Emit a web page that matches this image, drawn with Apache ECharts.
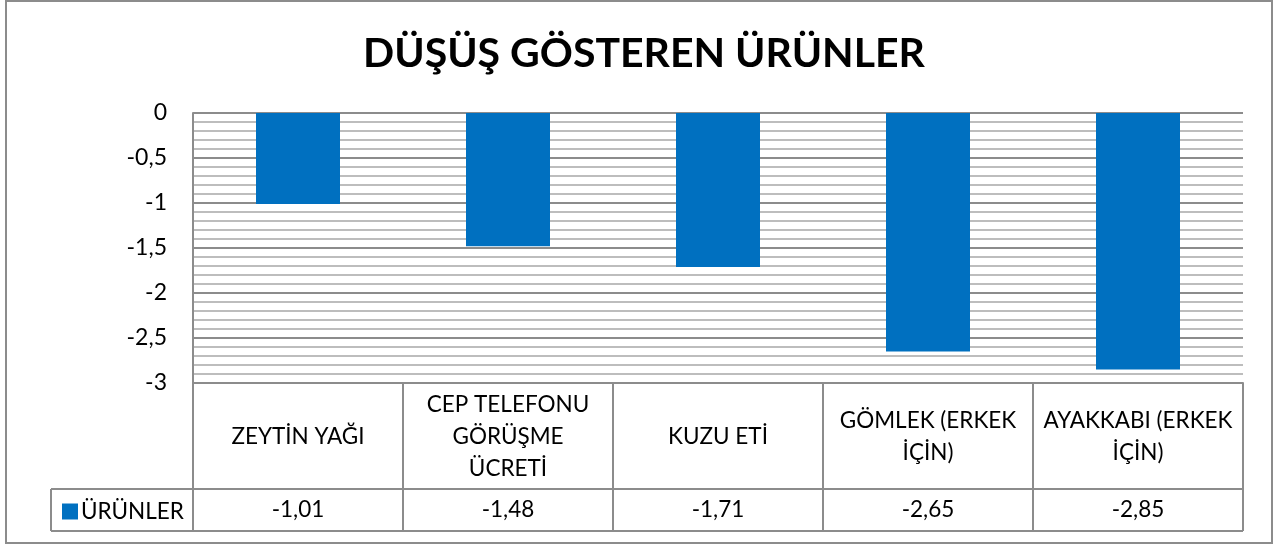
<!DOCTYPE html>
<html lang="tr">
<head>
    <meta charset="UTF-8">
    <title>DÜŞÜŞ GÖSTEREN ÜRÜNLER</title>
    <script src="https://cdn.jsdelivr.net/npm/echarts@6/dist/echarts.min.js"></script>
    <style>
        html, body { margin: 0; padding: 0; background: #fff; }
        #main { width: 1288px; height: 547px; }
    </style>
</head>
<body>
<div id="main"></div>
<script>
    // kategori adlari (tablodaki gibi satir kirilimli)
    var kategoriler = ['ZEYTİN YAĞI', 'CEP TELEFONU\nGÖRÜŞME\nÜCRETİ', 'KUZU ETİ', 'GÖMLEK (ERKEK\nİÇİN)', 'AYAKKABI (ERKEK\nİÇİN)'];
    var degerler = [-1.01, -1.48, -1.71, -2.65, -2.85];
    var seriAdi = 'ÜRÜNLER';

    var font = 'Lato';
    var yazi = 22.5;
    var gri = '#8c8c8c';

    function virgul(v) {
        return String(v).replace('.', ',');
    }

    var myChart = echarts.init(document.getElementById('main'));
    myChart.setOption({
        animation: false,
        title: {
            text: 'DÜŞÜŞ GÖSTEREN ÜRÜNLER',
            left: 'center',
            top: 28,
            textStyle: { fontFamily: font, fontSize: 41, fontWeight: 'bold', color: '#000' }
        },
        legend: {
            left: 57,
            top: 495,
            icon: 'rect',
            itemWidth: 16,
            itemHeight: 16,
            itemGap: 6,
            data: [seriAdi],
            textStyle: { fontFamily: font, fontSize: yazi, color: '#000', padding: [0, 0, 0, -2] }
        },
        grid: { left: 193, right: 45, top: 113, bottom: 164 },
        xAxis: [{
            type: 'category',
            position: 'bottom',
            data: kategoriler,
            axisLine: { show: true, onZero: false, lineStyle: { color: gri, width: 2 } },
            axisTick: { show: true, length: 148, interval: 0, lineStyle: { color: gri, width: 2 } },
            axisLabel: {
                interval: 0,
                margin: 54,
                verticalAlign: 'middle',
                lineHeight: 32,
                fontFamily: font,
                fontSize: yazi,
                color: '#000'
            },
            splitLine: { show: false }
        }, {
            type: 'category',
            position: 'bottom',
            data: degerler.map(virgul),
            axisLine: { show: false, onZero: false },
            axisTick: { show: false },
            axisLabel: {
                interval: 0,
                margin: 127,
                verticalAlign: 'middle',
                fontFamily: font,
                fontSize: yazi,
                color: '#000'
            }
        }],
        yAxis: {
            type: 'value',
            min: -3,
            max: 0,
            interval: 0.5,
            axisLine: { show: true, lineStyle: { color: gri, width: 2 } },
            axisTick: { show: false },
            axisLabel: {
                margin: 26,
                fontFamily: font,
                fontSize: 23,
                color: '#000',
                formatter: function (v) { return virgul(v); }
            },
            splitLine: { show: true, lineStyle: { color: gri, width: 2 } },
            minorTick: { show: false, splitNumber: 5 },
            minorSplitLine: { show: true, lineStyle: { color: '#bdbdbd', width: 2 } }
        },
        series: [{
            name: seriAdi,
            type: 'bar',
            data: degerler,
            barWidth: '40%',
            itemStyle: { color: '#0070C0' }
        }],
        graphic: [
            // dis cerceve
            { type: 'rect', shape: { x: 6, y: 1, width: 1266, height: 542 },
              style: { fill: 'none', stroke: gri, lineWidth: 2 }, silent: true },
            // veri tablosu cizgileri
            { type: 'line', shape: { x1: 51, y1: 489, x2: 1243, y2: 489 },
              style: { stroke: gri, lineWidth: 2 }, silent: true },
            { type: 'line', shape: { x1: 51, y1: 531, x2: 1243, y2: 531 },
              style: { stroke: gri, lineWidth: 2 }, silent: true },
            { type: 'line', shape: { x1: 51, y1: 489, x2: 51, y2: 531 },
              style: { stroke: gri, lineWidth: 2 }, silent: true }
        ]
    });
</script>
</body>
</html>
